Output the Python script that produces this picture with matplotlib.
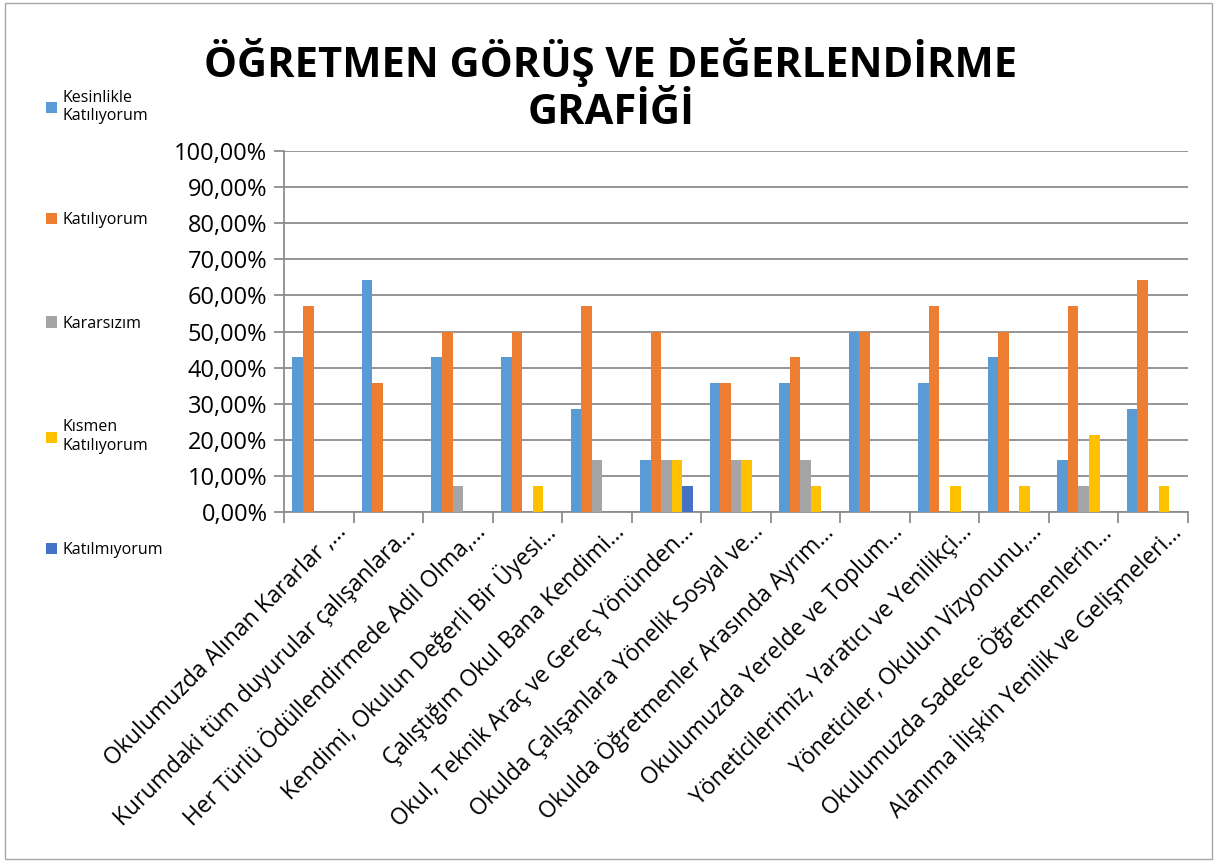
import numpy as np
import matplotlib
matplotlib.use('Agg')
import matplotlib.pyplot as plt
import matplotlib.transforms as mtransforms
from matplotlib.patches import Rectangle
from matplotlib.ticker import FuncFormatter, MultipleLocator

plt.rcParams['font.family'] = ['Open Sans', 'DejaVu Sans']

categories = [
	'Okulumuzda Alınan Kararlar ,…',
	'Kurumdaki tüm duyurular çalışanlara…',
	'Her Türlü Ödüllendirmede Adil Olma,…',
	'Kendimi, Okulun Değerli Bir Üyesi…',
	'Çalıştığım Okul Bana Kendimi…',
	'Okul, Teknik Araç ve Gereç Yönünden…',
	'Okulda Çalışanlara Yönelik Sosyal ve…',
	'Okulda Öğretmenler Arasında Ayrım…',
	'Okulumuzda Yerelde ve Toplum…',
	'Yöneticilerimiz, Yaratıcı ve Yenilikçi…',
	'Yöneticiler, Okulun Vizyonunu,…',
	'Okulumuzda Sadece Öğretmenlerin…',
	'Alanıma İlişkin Yenilik ve Gelişmeleri…',
]

series_names = ['Kesinlikle\nKatılıyorum', 'Katılıyorum', 'Kararsızım', 'Kısmen\nKatılıyorum', 'Katılmıyorum']
series_colors = ['#5B9BD5', '#ED7D31', '#A5A5A5', '#FFC000', '#4472C4']

kesinlikle = [42.86, 64.29, 42.86, 42.86, 28.57, 14.29, 35.71, 35.71, 50.00, 35.71, 42.86, 14.29, 28.57]
katiliyorum = [57.14, 35.71, 50.00, 50.00, 57.14, 50.00, 35.71, 42.86, 50.00, 57.14, 50.00, 57.14, 64.29]
kararsizim = [0, 0, 7.14, 0, 14.29, 14.29, 14.29, 14.29, 0, 0, 0, 7.14, 0]
kismen = [0, 0, 0, 7.14, 0, 14.29, 14.29, 7.14, 0, 7.14, 7.14, 21.43, 7.14]
katilmiyorum = [0, 0, 0, 0, 0, 7.14, 0, 0, 0, 0, 0, 0, 0]

series = [kesinlikle, katiliyorum, kararsizim, kismen, katilmiyorum]

fig = plt.figure(figsize=(12.17, 8.64), dpi=100)
ax = fig.add_axes([0.2334, 0.4074, 0.7428, 0.4178])

x = np.arange(len(categories))
bw = 0.152
for i, (vals, name, col) in enumerate(zip(series, series_names, series_colors)):
	ax.bar(x + (i - 2) * bw, vals, width=bw, color=col, label=name, zorder=3)

ax.set_xlim(-0.5, len(categories) - 0.5)
ax.set_ylim(0, 100)
ax.yaxis.set_major_locator(MultipleLocator(10))
ax.yaxis.set_major_formatter(FuncFormatter(lambda v, p: ('%.2f%%' % v).replace('.', ',')))
ax.grid(axis='y', color='#8C8C8C', linewidth=1.3, zorder=0)

for s in ['top', 'right']:
	ax.spines[s].set_visible(False)
ax.spines['left'].set_color('#8C8C8C')
ax.spines['bottom'].set_color('#8C8C8C')
ax.spines['left'].set_linewidth(1.3)
ax.spines['bottom'].set_linewidth(1.3)

ax.tick_params(axis='y', labelsize=17, length=7, color='#8C8C8C', width=1.3, pad=5)
# category boundary ticks
ax.set_xticks(np.arange(-0.5, len(categories) + 0.5, 1), minor=False)
ax.set_xticklabels([])
ax.set_xticks(x, minor=True)
ax.set_xticklabels(categories, minor=True, rotation=45, ha='right', va='center',
	rotation_mode='anchor', fontsize=16.5)
ax.tick_params(axis='x', which='major', length=8, color='#8C8C8C', width=1.3)
ax.tick_params(axis='x', which='minor', length=0, pad=14)
shift = mtransforms.ScaledTranslation(0.24, 0.03, fig.dpi_scale_trans)
for lbl in ax.get_xticklabels(minor=True):
	lbl.set_transform(lbl.get_transform() + shift)

fig.text(0.502, 0.90, 'ÖĞRETMEN GÖRÜŞ VE DEĞERLENDİRME\nGRAFİĞİ', ha='center', va='center',
	fontsize=30, fontweight='bold', linespacing=1.2)

leg = fig.legend(loc='upper left', bbox_to_anchor=(0.026, 0.913), frameon=False,
	fontsize=11.5, labelspacing=5.5, handlelength=0.7, handleheight=0.7, handletextpad=0.35)

fig.patches.append(Rectangle((0.004, 0.006), 0.992, 0.99, transform=fig.transFigure,
	fill=False, edgecolor='#A6A6A6', linewidth=1))

fig.savefig('out.png', dpi=100)
